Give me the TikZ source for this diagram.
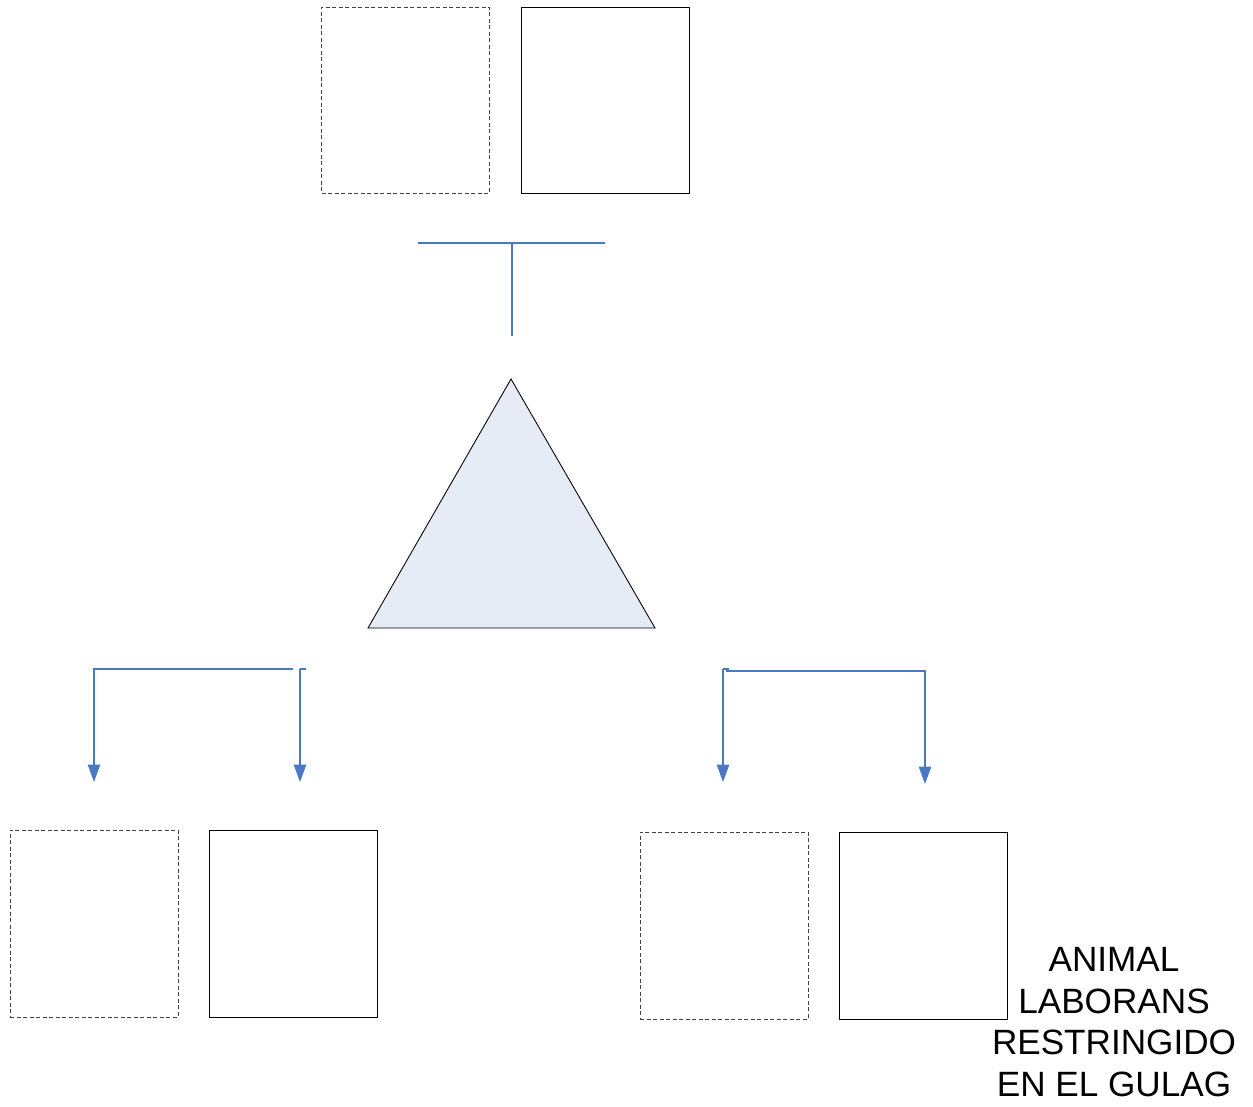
\documentclass[tikz,border=0pt]{standalone}
\usepackage{fontspec}
\setmainfont{Liberation Sans}
\usepackage{xcolor}
\usetikzlibrary{arrows.meta}
\definecolor{linkblue}{HTML}{4A78C2}
\definecolor{trifill}{HTML}{E6ECF6}

\begin{document}
\begin{tikzpicture}[x=0.02cm, y=-0.02cm]
        \tikzset{box/.style={draw, line width=0.45pt, minimum width=3.36cm, minimum height=3.72cm, inner sep=0pt}};
        \tikzset{dbox/.style={box, draw=black!75, dash pattern=on 2.4pt off 1.3pt}};
        \tikzset{link/.style={draw=linkblue, line width=0.6pt}};
        \tikzset{arrows={-Triangle[width=0.25cm, length=0.35cm, linkblue]}};
        \useasboundingbox (0, 0) rectangle (1253, 1106);
        % top pair
        \node [dbox] (topdash) at (405.5, 100) {};
        \node [box] (topsolid) at (605, 100) {};
        % junction under the top pair
        \coordinate (tleft) at (418, 243);
        \coordinate (tright) at (605, 243);
        \coordinate (tmid) at (512, 243);
        \coordinate (tfoot) at (512, 336);
        \draw [link, -] (tleft) -- (tright);
        \draw [link, -] (tmid) -- (tfoot);
        % triangle
        \coordinate (apex) at (511, 379);
        \coordinate (baseleft) at (368, 628);
        \coordinate (baseright) at (655, 628);
        \draw [fill=trifill, line width=0.5pt] (apex) -- (baseright) -- (baseleft) -- cycle;
        % bottom boxes
        \node [dbox, minimum height=3.74cm] (leftdash) at (94, 923.5) {};
        \node [box, minimum height=3.74cm] (leftsolid) at (293, 923.5) {};
        \node [dbox, minimum height=3.74cm] (rightdash) at (724, 925.5) {};
        \node [box, minimum height=3.74cm] (rightsolid) at (923, 925.5) {};
        % left fork
        \coordinate (lfa) at (94, 669);
        \coordinate (lfb) at (293, 669);
        \coordinate (lfc) at (300, 669);
        \coordinate (lfd) at (306, 669);
        \coordinate (lfatip) at (94, 782);
        \coordinate (lfctip) at (300, 782);
        \draw [link] (lfb) -- (lfa) -- (lfatip);
        \draw [link, -] (lfc) -- (lfd);
        \draw [link] (lfc) -- (lfctip);
        % right fork
        \coordinate (rfa) at (723, 669);
        \coordinate (rfb) at (729, 669);
        \coordinate (rfc) at (726, 671);
        \coordinate (rfd) at (925, 671);
        \coordinate (rfatip) at (723, 782);
        \coordinate (rfdtip) at (925, 784);
        \draw [link, -] (rfb) -- (rfa);
        \draw [link] (rfa) -- (rfatip);
        \draw [link] (rfc) -- (rfd) -- (rfdtip);
        % caption
        \node [align=center, font=\fontsize{20}{23.6}\selectfont, inner sep=0pt] (caption) at (1114, 1022) {ANIMAL\\LABORANS\\RESTRINGIDO\\EN EL GULAG};
    \end{tikzpicture}
\end{document}
